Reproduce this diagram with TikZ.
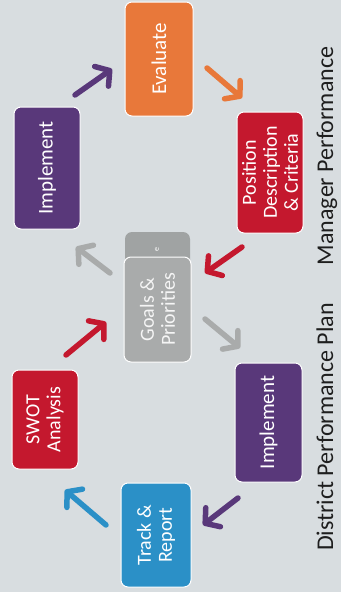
\documentclass[tikz,border=0pt]{standalone}
\usepackage{fontspec}
\setmainfont{Carlito}
\usetikzlibrary{arrows.meta}
\definecolor{bg}{HTML}{D8DDE0}
\definecolor{corange}{HTML}{E8783A}
\definecolor{cred}{HTML}{C4182E}
\definecolor{cpurple}{HTML}{59387A}
\definecolor{cblue}{HTML}{2B90C7}
\definecolor{cgrey}{HTML}{A9ABAB}
\definecolor{cgreyb}{HTML}{A0A3A3}
\definecolor{ctext}{HTML}{1E1E1E}
\begin{document}
\begin{tikzpicture}[x=1pt,y=-1pt,
  box/.style={rounded corners=7pt, draw=white, line width=1pt, text=white,
    rotate=90, align=center, inner sep=0pt, font=\fontsize{21}{21}\selectfont},
  multi/.style={font=\fontsize{20}{21}\selectfont},
  arr/.style={line width=5.5pt, line cap=round,
    -{Straight Barb[length=10pt,width=24pt,round]}},
  side/.style={rotate=90, anchor=base, text=ctext, inner sep=0pt,
    font=\fontsize{24}{24}\selectfont}
]
\fill[bg] (0,0) rectangle (341,592);
\useasboundingbox (0,0) rectangle (341,592);

% boxes
\node[box, fill=corange, minimum width=114pt, minimum height=68pt] (eval) at (159,59) {Evaluate};
\node[box, fill=cpurple, minimum width=122pt, minimum height=66pt] (impl1) at (47,168) {Implement};
\node[box, multi, fill=cred, minimum width=121pt, minimum height=66pt] (pos) at (270,172.5) {Position\\Description\\\& Criteria};
\node[box, fill=cgreyb, draw=none, minimum width=68pt, minimum height=65pt] (back) at (157.5,266) {};
\node[text=white, rotate=90, inner sep=0pt, font=\fontsize{8}{8}\selectfont] (backtxt) at (157,250) {e};
\node[box, multi, fill=cgrey, text=white!92!gray, minimum width=105pt, minimum height=67pt] (goals) at (157.5,309.5) {Goals \&\\Priorities};
\node[box, fill=cpurple, minimum width=119pt, minimum height=67pt] (impl2) at (268.5,422.5) {Implement};
\node[box, multi, fill=cred, minimum width=99pt, minimum height=66pt] (swot) at (45,419.5) {SWOT\\Analysis};
\node[box, multi, fill=cblue, minimum width=104pt, minimum height=70pt] (track) at (156,535) {Track \&\\Report};

% side labels
\node[side] (mgr) at (333,156) {Manager Performance};
\node[side] (dist) at (333,427) {District Performance Plan};

% arrow end points
\coordinate (a1s) at (75,95);   \coordinate (a1e) at (112,69);
\coordinate (a2s) at (207,68);  \coordinate (a2e) at (242,98);
\coordinate (a3s) at (242,247); \coordinate (a3e) at (205,273);
\coordinate (a4s) at (110,273); \coordinate (a4e) at (76,247);
\coordinate (a5s) at (66,355);  \coordinate (a5e) at (106,322);
\coordinate (a6s) at (205,319); \coordinate (a6e) at (240,348);
\coordinate (a7s) at (238,498); \coordinate (a7e) at (203,525);
\coordinate (a8s) at (106,525); \coordinate (a8e) at (65,490);

\draw[arr, cpurple] (a1s) -- (a1e);
\draw[arr, corange] (a2s) -- (a2e);
\draw[arr, cred] (a3s) -- (a3e);
\draw[arr, cgrey] (a4s) -- (a4e);
\draw[arr, cred] (a5s) -- (a5e);
\draw[arr, cgrey] (a6s) -- (a6e);
\draw[arr, cpurple] (a7s) -- (a7e);
\draw[arr, cblue] (a8s) -- (a8e);
\end{tikzpicture}
\end{document}
